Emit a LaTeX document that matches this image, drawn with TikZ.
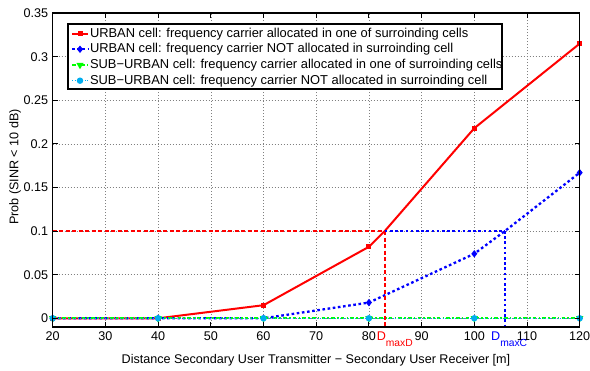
\documentclass[tikz,border=0pt]{standalone}
\usepackage{fontspec}
\setmainfont{Liberation Sans}
\usetikzlibrary{shapes.geometric}

\begin{document}
\begin{tikzpicture}[x=1pt,y=1pt,
  every node/.style={inner sep=0pt, outer sep=0pt},
  lab/.style={font=\fontsize{12.6}{14}\selectfont},
  leglab/.style={font=\fontsize{12.9}{14}\selectfont},
  sublab/.style={font=\fontsize{10.3}{12}\selectfont},
  gridline/.style={black!50, line width=0.5pt, dash pattern=on 0.8pt off 2.2pt},
  axisbox/.style={black, line width=1.2pt},
  tickmark/.style={black, line width=1pt},
  redline/.style={red, line width=2pt, line join=round},
  blueline/.style={blue, line width=2.3pt, dash pattern=on 2.6pt off 2.6pt},
  greenline/.style={green, line width=2.2pt, dash pattern=on 3.6pt off 2.2pt on 1.6pt off 2.2pt},
  cyanline/.style={cyan, line width=0.6pt, dash pattern=on 1pt off 1.5pt},
  reddash/.style={red, line width=2.1pt, dash pattern=on 4pt off 2.5pt},
  bluedot/.style={blue, line width=2.3pt, dash pattern=on 2.6pt off 2.6pt},
  sqmark/.style={rectangle, fill=red, minimum size=5pt},
  dmmark/.style={diamond, fill=blue, minimum width=6pt, minimum height=7.5pt},
  trimark/.style={regular polygon, regular polygon sides=3, shape border rotate=180, fill=green, minimum size=8.5pt},
  cimark/.style={circle, fill=cyan, minimum size=6.5pt}
]
\fill[white] (0,0) rectangle (590,371);
\useasboundingbox (0,0) rectangle (590,371);

% data axes: x from 20 to 120, y from -0.01 to 0.35
\begin{scope}[x=5.27pt, y=872pt, shift={(-52.7pt,52.7pt)}]
  % grid
  \foreach \X in {30,40,...,110}
    \draw[gridline] (\X,-0.01) -- (\X,0.35);
  \foreach \k in {0,...,6}
    \draw[gridline] (20,{\k*0.05}) -- (120,{\k*0.05});

  % data points
  \coordinate (r1) at (20,0);     \coordinate (r2) at (40,0);
  \coordinate (r3) at (60,0.015); \coordinate (r4) at (80,0.082);
  \coordinate (r5) at (100,0.218);\coordinate (r6) at (120,0.315);
  \coordinate (b1) at (20,0);     \coordinate (b2) at (40,0);
  \coordinate (b3) at (60,0);     \coordinate (b4) at (80,0.018);
  \coordinate (b5) at (100,0.074);\coordinate (b6) at (120,0.167);
  \foreach \i/\X in {1/20,2/40,3/60,4/80,5/100,6/120}
    \coordinate (g\i) at (\X,0);

  % threshold crossings at 0.1
  \coordinate (h0) at (20,0.1);
  \coordinate (dd) at (83.0,0.1);
  \coordinate (dc) at (105.8,0.1);
  \coordinate (ddb) at (83.0,-0.01);
  \coordinate (dcb) at (105.8,-0.01);

  % curves
  \draw[redline] (r1) -- (r2) -- (r3) -- (r4) -- (dd) -- (r5) -- (r6);
  \foreach \i in {1,...,6} \node[sqmark] (mr\i) at (r\i) {};
  \draw[blueline] (b1) -- (b2) -- (b3) -- (b4) -- (b5) -- (dc) -- (b6);
  \foreach \i in {1,...,6} \node[dmmark] (mb\i) at (b\i) {};
  \draw[greenline] (g1) -- (g6);
  \foreach \i in {1,...,6} \node[trimark] (mg\i) at (g\i) {};
  \draw[cyanline] (g1) -- (g6);
  \foreach \i in {1,...,6} \node[cimark] (mc\i) at (g\i) {};

  % threshold lines
  \draw[reddash] (h0) -- (dd);
  \draw[reddash] (dd) -- (ddb);
  \draw[bluedot] (dd) -- (dc);
  \draw[bluedot] (dc) -- (dcb);

  % axes box and ticks
  \coordinate (ll) at (20,-0.01);
  \coordinate (ur) at (120,0.35);
  \foreach \X in {20,30,...,120} {
    \draw[tickmark] (\X,-0.01) -- ++(0,5pt);
    \draw[tickmark] (\X,0.35) -- ++(0,-5pt);
    \node[lab, anchor=base, yshift=-13pt] (xl\X) at (\X,-0.01) {\X};
  }
  \foreach \k/\t in {0/0,1/0.05,2/0.1,3/0.15,4/0.2,5/0.25,6/0.3,7/0.35} {
    \draw[tickmark] (20,{\k*0.05}) -- ++(5pt,0);
    \draw[tickmark] (120,{\k*0.05}) -- ++(-5pt,0);
    \node[lab, anchor=east, xshift=-4.5pt] (yl\k) at (20,{\k*0.05}) {\t};
  }
  \draw[axisbox] (ll) rectangle (ur);

  % distance labels
  \node[lab, anchor=base west, yshift=-13pt, text=red] (dmaxd) at (81.5,-0.01)
    {D\raisebox{-6.5pt}{\fontsize{10.3}{12}\selectfont maxD}};
  \node[lab, anchor=base west, yshift=-13pt, text=blue] (dmaxc) at (103.2,-0.01)
    {D\raisebox{-6.5pt}{\fontsize{10.3}{12}\selectfont maxC}};
\end{scope}

% axis titles
\node[lab, anchor=base] (xtitle) at (316,7)
  {Distance Secondary User Transmitter − Secondary User Receiver [m]};
\node[lab, rotate=90] (ytitle) at (15,204) {Prob (SINR < 10 dB)};

% legend
\draw[fill=white, line width=1.1pt] (68,282) rectangle (502,347);
\foreach \n/\y in {1/337,2/321.7,3/306,4/290.3} {
  \coordinate (la\n) at (72,\y);
  \coordinate (lb\n) at (88,\y);
  \coordinate (lm\n) at (80,\y);
}
\draw[redline] (la1) -- (lb1);   \node[sqmark] (lk1) at (lm1) {};
\draw[blueline] (la2) -- (lb2);  \node[dmmark] (lk2) at (lm2) {};
\draw[greenline] (la3) -- (lb3); \node[trimark] (lk3) at (lm3) {};
\draw[cyanline] (la4) -- (lb4);  \node[cimark] (lk4) at (lm4) {};
\node[leglab, anchor=west] (lt1) at (90,337) {URBAN cell: frequency carrier allocated in one of surroinding cells};
\node[leglab, anchor=west] (lt2) at (90,321.7) {URBAN cell: frequency carrier NOT allocated in surroinding cell};
\node[leglab, anchor=west] (lt3) at (90,306) {SUB−URBAN cell: frequency carrier allocated in one of surroinding cells};
\node[leglab, anchor=west] (lt4) at (90,290.3) {SUB−URBAN cell: frequency carrier NOT allocated in surroinding cell};
\end{tikzpicture}
\end{document}
